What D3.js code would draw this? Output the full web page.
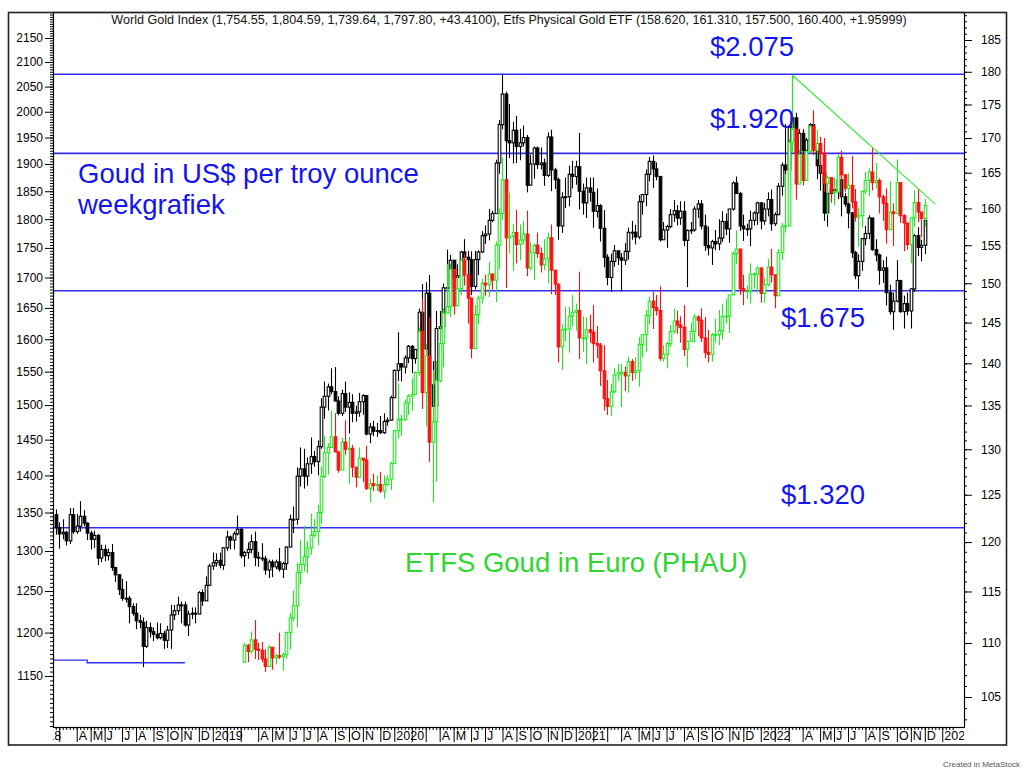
<!DOCTYPE html>
<html>
<head>
<meta charset="utf-8">
<script src="https://cdn.jsdelivr.net/npm/d3@7"></script>
<style>
  body { margin: 0; background: #fff; }
  svg { display: block; font-family: "Liberation Sans", Arial, sans-serif; }
</style>
</head>
<body>
<svg id="chart" width="1028" height="776"></svg>
<script>
// weekly bars, dated on the Friday close
var goldStart = new Date(2018, 1, 23);
var goldEnd = new Date(2022, 11, 2);
var etfStart = new Date(2019, 2, 8);

// World Gold Index (US$), weekly
var goldFirstOpen = 1347;
var goldClose = [
  1330,1322,1324,1313,1347,1325,1332,1345,1336,1323,1315,1320,1291,1302,1294,1298,1279,1270,1252,1241,1241,1231,1223,1214,1212,1184,1206,1201,1198,1194,1199,1191,1203,1221,1226,1233,1233,1209,1222,1223,1222,1248,1238,1257,1281,
  1285,1288,1282,1304,1318,1314,1322,1328,1294,1298,1302,1312,1292,1291,1290,1276,1286,1280,1286,1277,1284,1305,1341,1341,1399,1409,1399,1416,1426,1419,1440,1497,1513,1527,1520,1506,1488,1517,1497,1504,1488,1490,1505,1514,1458,1468,1462,1463,1460,1476,1478,1511,
  1552,1562,1557,1571,1589,1570,1584,1643,1585,1674,1530,1498,1617,1620,1683,1683,1729,1700,1703,1743,1734,1730,1685,1730,1743,1771,1774,1798,1810,1902,1975,2035,1944,1940,1964,1933,1940,1950,1861,1900,1930,1899,1902,1879,1951,1889,1871,1788,1839,1840,1881,1877,
  1895,1850,1829,1856,1848,1814,1824,1784,1734,1700,1727,1745,1733,1729,1744,1777,1777,1769,1831,1844,1881,1905,1891,1877,1764,1781,1787,1808,1815,1802,1814,1763,1780,1781,1818,1827,1788,1754,1750,1761,1757,1767,1796,1783,1818,1865,1846,1788,1783,1783,1798,1811,1829,
  1797,1818,1835,1792,1808,1859,1898,1889,1970,1988,1921,1958,1925,1945,1975,1931,1897,1883,1811,1846,1853,1851,1871,1840,1827,1811,1742,1703,1727,1766,1775,1802,1747,1738,1712,1716,1675,1644,1661,1695,1644,1657,1645,1681,1771,1751,1754.55,1797.8
];
var goldHigh = [
  1354,1337,1341,1326,1356,1356,1348,1365,1353,1337,1326,1326,1322,1308,1308,1303,1309,1280,1269,1265,1262,1244,1235,1235,1221,1218,1214,1212,1206,1212,1211,1202,1208,1233,1233,1243,1237,1237,1226,1230,1230,1250,1252,1268,1284,
  1298,1297,1298,1305,1326,1320,1325,1346,1330,1300,1311,1321,1325,1299,1310,1294,1289,1289,1289,1304,1286,1306,1347,1358,1411,1439,1437,1425,1453,1434,1449,1510,1535,1532,1555,1557,1513,1523,1535,1519,1516,1499,1518,1516,1512,1474,1477,1474,1484,1488,1482,1514,
  1553,1611,1563,1575,1591,1591,1585,1649,1689,1692,1704,1566,1645,1645,1690,1747,1738,1723,1722,1745,1765,1745,1744,1745,1746,1779,1789,1818,1815,1908,1984,2075,2040,2015,1980,1992,1967,1973,1955,1917,1933,1933,1931,1910,1960,1965,1893,1875,1848,1875,1897,1906,
  1906,1959,1864,1875,1875,1875,1855,1827,1816,1739,1740,1755,1745,1741,1758,1785,1797,1790,1843,1845,1890,1913,1916,1903,1877,1795,1790,1818,1834,1825,1832,1832,1782,1795,1823,1834,1834,1808,1787,1764,1781,1800,1814,1810,1818,1868,1877,1849,1808,1792,1815,1814,1831,
  1830,1829,1848,1853,1812,1865,1903,1976,1974,2070,1998,1966,1966,1949,1978,1998,1920,1910,1883,1849,1870,1874,1876,1879,1847,1830,1813,1745,1739,1767,1788,1807,1802,1765,1740,1729,1735,1688,1675,1729,1686,1670,1675,1682,1774,1786,1764,1804.59
];
var goldLow = [
  1321,1303,1315,1307,1309,1322,1322,1325,1332,1314,1302,1304,1282,1286,1287,1288,1275,1261,1245,1238,1236,1211,1220,1204,1205,1160,1182,1194,1190,1192,1192,1181,1182,1181,1215,1221,1211,1207,1196,1216,1211,1222,1232,1238,1256,
  1276,1280,1278,1276,1300,1302,1302,1320,1291,1280,1290,1297,1281,1280,1287,1270,1266,1267,1277,1274,1266,1276,1305,1323,1334,1385,1382,1386,1402,1412,1400,1437,1480,1492,1516,1506,1485,1484,1490,1459,1475,1476,1483,1486,1456,1445,1455,1454,1458,1458,1470,1477,
  1517,1536,1535,1547,1563,1548,1562,1582,1563,1576,1504,1451,1482,1567,1606,1680,1660,1688,1683,1691,1718,1693,1671,1680,1704,1741,1757,1763,1795,1812,1882,1966,1862,1911,1901,1902,1907,1933,1848,1871,1873,1891,1890,1860,1876,1850,1854,1764,1776,1820,1823,1855,
  1862,1817,1808,1802,1831,1785,1803,1761,1717,1687,1676,1718,1721,1677,1721,1730,1764,1756,1765,1808,1823,1868,1856,1870,1761,1770,1750,1784,1795,1789,1790,1753,1684,1774,1778,1802,1782,1745,1737,1721,1746,1746,1760,1772,1759,1815,1845,1779,1762,1771,1753,1789,1790,
  1782,1790,1805,1780,1788,1807,1842,1879,1885,1966,1895,1910,1917,1915,1936,1929,1872,1851,1797,1787,1836,1829,1836,1805,1822,1784,1733,1697,1681,1711,1754,1765,1745,1727,1688,1691,1654,1639,1615,1659,1642,1617,1638,1617,1676,1736,1727,1739.64
];

// Etfs Physical Gold ETF (euro), weekly
var etfFirstOpen = 108.2;
var etfClose = [
  109.8,109.2,110.3,109.4, 109.3,108.5,107.8,109.6, 108.6,108.8,108.7,108.9,111.0, 112.4,113.6,116.9,117.7, 118.5,119.4,120.7,121.1, 123.1,127.0,129.6,130.2,131.4, 129.7,127.7,130.8,130.0, 130.1,128.0,126.9,129.0, 128.8,125.7,126.2,126.0,126.1, 125.4,126.1,126.7,128.4,
  132.1,133.4,133.4,135.3,136.1, 136.3,138.9,143.9,136.5, 140.9,130.8,133.1,137.9, 142.4,146.2,147.0,151.8, 147.1,149.3,153.0,151.1,148.1, 141.8,146.0,148.1,150.0, 149.8,151.2,150.4,155.0,159.3, 164.0,156.0,156.2,156.7, 155.1,155.7,156.5,152.0, 154.0,155.0,153.9,152.4,153.2, 156.0,151.7,149.9,142.0, 144.1,144.2,145.8,146.3,
  146.5,143.1,143.1,144.1,143.8, 142.4,142.2,139.1,135.8, 134.9,136.6,138.6,138.9, 138.9,138.5,140.2,138.9,139.1, 142.3,143.5,145.9,147.7, 146.9,146.5,140.6,141.1, 142.4,143.9,145.2,144.7,144.4, 141.7,142.7,143.9,145.7, 145.3,143.1,141.3,141.1, 143.5,143.5,144.0,145.8,145.8, 148.5,153.9,154.5,149.3, 149.0,149.0,151.2,151.2,152.0,
  148.7,149.8,152.1,151.1, 148.4,154.0,157.6,157.6, 169.4,171.3,163.4,167.6, 163.9,168.0,171.7,168.2,169.2, 167.8,163.5,164.3,162.3, 162.3,167.2,164.7,162.8, 163.2,160.9,158.8,159.0,162.4, 163.9,165.1,163.6,163.9, 161.6,160.7,157.1,159.5,159.3, 163.6,159.0,158.0,155.1, 158.7,160.8,159.5,158.62, 160.4
];
var etfHigh = [
  110.0,109.9,111.1,112.2, 110.0,110.1,109.4,109.8, 109.3,109.0,111.0,109.1,111.1, 112.9,115.1,117.9,120.2, 121.7,120.1,123.0,122.4, 123.9,128.1,131.5,130.7,134.4, 134.1,129.8,131.3,133.3, 131.4,130.5,127.7,130.2, 128.9,130.4,126.7,127.3,127.1, 127.5,127.1,127.1,128.6,
  132.2,137.6,133.9,135.7,136.3, 138.2,139.0,144.4,148.0, 142.4,145.7,139.2,140.3, 144.6,146.8,152.5,152.6, 149.1,150.9,153.2,153.8,149.4, 146.8,147.2,148.4,150.6, 151.1,152.8,150.8,155.5,160.0, 167.2,163.7,162.2,157.9, 159.8,157.8,158.3,159.7, 155.4,155.2,156.7,154.7,155.8, 156.7,157.8,151.6,148.9, 144.8,147.0,147.0,148.5,
  147.4,151.5,145.8,145.6,146.0, 147.2,144.6,142.5,142.2, 138.0,137.6,139.4,139.9, 139.9,139.6,140.8,140.5,140.7, 143.2,143.6,146.6,148.3, 148.9,148.5,149.6,142.2, 142.6,144.7,146.8,146.5,145.8, 147.2,142.8,145.0,146.1, 145.9,146.8,145.7,144.1, 143.7,145.5,146.6,147.3,148.0, 148.5,154.2,157.0,154.4, 151.1,149.7,152.6,151.4,152.2,
  151.4,150.7,153.2,154.5, 148.8,154.5,158.0,164.8, 169.8,179.5,170.0,168.3, 167.4,168.4,172.0,174.1,171.2, 170.2,170.0,164.6,163.8, 164.3,167.6,168.2,164.6, 164.9,167.4,162.7,160.1,162.5, 165.1,165.6,168.7,166.4, 164.2,161.9,162.8,163.8,160.7, 166.9,163.1,159.2,157.9, 158.8,162.5,162.7,159.4, 161.31
];
var etfLow = [
  108.3,108.2,109.0,108.5, 108.4,108.2,107.3,107.9, 107.5,108.0,108.5,107.4,108.5, 109.4,112.1,111.5,115.7, 117.0,116.8,118.7,120.5, 119.7,121.9,126.8,127.2,131.0, 129.7,127.4,127.9,129.4, 126.2,126.9,125.8,127.2, 126.4,125.5,124.2,125.4,125.4, 125.2,124.6,126.0,125.5,
  129.1,131.2,131.5,133.2,133.9, 134.4,137.0,138.5,134.6, 132.6,128.6,124.2,126.4, 137.7,139.5,146.7,145.7, 146.0,147.5,148.5,149.7,144.9, 140.6,141.7,144.8,147.4, 148.4,148.2,149.2,147.6,151.8, 158.4,149.4,153.9,151.6, 152.6,153.0,155.1,150.9, 151.7,150.4,153.3,151.4,151.7, 150.0,148.6,148.5,140.1, 139.2,142.7,141.3,144.6,
  144.0,140.5,141.4,139.9,142.5, 140.1,140.6,137.3,134.4, 133.9,133.8,136.4,137.9, 134.8,136.7,136.5,137.9,138.1, 137.2,140.7,141.4,144.8, 144.2,145.9,140.3,140.2, 139.4,142.0,143.6,143.6,142.5, 140.9,139.5,143.3,142.5, 143.3,142.6,140.6,140.1, 140.2,142.6,142.2,142.9,144.9, 143.7,149.8,152.5,148.5, 147.2,148.0,147.4,149.3,148.8,
  147.5,147.5,149.6,150.1, 146.8,149.7,153.0,156.7, 162.5,168.0,161.2,163.5, 163.2,165.5,168.4,167.5,166.9, 164.9,162.3,159.1,160.8, 160.4,164.0,161.6,162.3, 160.8,160.0,158.2,154.8,157.4, 162.0,161.7,162.5,162.8, 159.3,158.3,155.2,157.5,154.9, 160.1,158.0,154.2,154.4, 152.6,157.5,158.1,156.1, 157.5
];

// horizontal levels drawn on the gold scale
var levelValues = [2075, 1920, 1678, 1330];
var levelLabels = ["$2.075", "$1.920", "$1.675", "$1.320"];
// short support line under the 2018 low
var lowLineDates = [new Date(2018, 1, 16), new Date(2018, 3, 27), new Date(2018, 3, 27), new Date(2018, 10, 9)];
var lowLineValues = [1168, 1168, 1165, 1165];
// falling trend line on the ETF scale
var trendDates = [new Date(2022, 2, 11), new Date(2022, 11, 23)];
var trendValues = [179.5, 160.6];

var leftTicks = [1150,1200,1250,1300,1350,1400,1450,1500,1550,1600,1650,1700,1750,1800,1850,1900,1950,2000,2050,2100,2150];
var rightTicks = [105,110,115,120,125,130,135,140,145,150,155,160,165,170,175,180,185];
var monthLetters = ["J","F","M","A","M","J","J","A","S","O","N","D"];

var titleText = "World Gold Index (1,754.55, 1,804.59, 1,739.64, 1,797.80, +43.4100), Etfs Physical Gold ETF (158.620, 161.310, 157.500, 160.400, +1.95999)";

var W = 1028, H = 776;
var frame = { left: 8.5, top: 12.5, right: 1006.5, bottom: 745 };
var plot = { left: 53, top: 12, right: 964, bottom: 727 };
var blue = "#1414f0", lineBlue = "#3030f4", green = "#2fd62f";

var svg = d3.select("#chart");
svg.append("rect").attr("width", W).attr("height", H).attr("fill", "#fff");

var defs = svg.append("defs");
defs.append("clipPath").attr("id", "plotClip").append("rect")
    .attr("x", plot.left).attr("y", plot.top)
    .attr("width", plot.right - plot.left).attr("height", plot.bottom - plot.top);
defs.append("clipPath").attr("id", "axisClip").append("rect")
    .attr("x", plot.left).attr("y", plot.bottom)
    .attr("width", plot.right - plot.left).attr("height", frame.bottom - plot.bottom);

var x = d3.scaleTime().domain([goldStart, goldEnd]).range([55.75, 924.8]);
var yGold = d3.scaleLog().domain([1150, 2150]).range([676, 38]);
var yEtf = d3.scaleLog().domain([105, 185]).range([697, 40]);

function buildBars(start, firstOpen, close, high, low) {
    var dates = d3.timeFriday.range(start, d3.timeDay.offset(goldEnd, 1));
    return close.map(function(c, i) {
        var o = i === 0 ? firstOpen : close[i - 1];
        return { date: dates[i], open: o, close: c,
                 high: Math.max(high[i], o, c), low: Math.min(low[i], o, c) };
    });
}

var goldBars = buildBars(goldStart, goldFirstOpen, goldClose, goldHigh, goldLow);
var etfBars = buildBars(etfStart, etfFirstOpen, etfClose, etfHigh, etfLow);

var body = svg.append("g").attr("clip-path", "url(#plotClip)");

// level lines
body.selectAll("line.level").data(levelValues).join("line")
    .attr("class", "level")
    .attr("x1", plot.left).attr("x2", plot.right)
    .attr("y1", function(d) { return yGold(d); })
    .attr("y2", function(d) { return yGold(d); })
    .attr("stroke", lineBlue).attr("stroke-width", 1.6);

var lowLine = d3.line()
    .x(function(d, i) { return x(lowLineDates[i]); })
    .y(function(d) { return yGold(d); });
body.append("path").attr("d", lowLine(lowLineValues))
    .attr("fill", "none").attr("stroke", lineBlue).attr("stroke-width", 1.4);

function drawCandles(g, bars, y, upStroke, downColor) {
    var px = function(d) { return Math.round(x(d.date)); };
    g.selectAll("line.wick").data(bars).join("line")
        .attr("class", "wick")
        .attr("x1", function(d) { return px(d) + 0.5; })
        .attr("x2", function(d) { return px(d) + 0.5; })
        .attr("y1", function(d) { return y(d.high); })
        .attr("y2", function(d) { return y(d.low); })
        .attr("stroke", function(d) { return d.close >= d.open ? upStroke : downColor; })
        .attr("stroke-width", 1.1);
    g.selectAll("rect.body").data(bars).join("rect")
        .attr("class", "body")
        .attr("x", function(d) { return px(d) - 0.8; })
        .attr("width", 2.6)
        .attr("y", function(d) { return y(Math.max(d.open, d.close)); })
        .attr("height", function(d) { return Math.max(0.8, Math.abs(y(d.open) - y(d.close))); })
        .attr("fill", function(d) { return d.close >= d.open ? "#fff" : downColor; })
        .attr("stroke", function(d) { return d.close >= d.open ? upStroke : downColor; })
        .attr("stroke-width", 1.1);
}

drawCandles(body.append("g"), goldBars, yGold, "#000", "#000");
drawCandles(body.append("g"), etfBars, yEtf, "#22e822", "#ff1010");

var trend = d3.line()
    .x(function(d, i) { return x(trendDates[i]); })
    .y(function(d) { return yEtf(d); });
body.append("path").attr("d", trend(trendValues))
    .attr("fill", "none").attr("stroke", "#33ee33").attr("stroke-width", 1.1);

// annotations
function bigText(str, tx, ty, color) {
    svg.append("text").attr("x", tx).attr("y", ty)
        .attr("font-size", 27.5).attr("fill", color).text(str);
}
bigText(levelLabels[0], 710, 56, blue);
bigText(levelLabels[1], 710, 128, blue);
bigText(levelLabels[2], 781, 327, blue);
bigText(levelLabels[3], 781, 504, blue);
bigText("Goud in US$ per troy ounce", 78, 183, blue);
bigText("weekgrafiek", 78, 214, blue);
bigText("ETFS Goud in Euro (PHAU)", 405, 572, green);

var title = svg.append("text").attr("x", 509).attr("y", 24)
    .attr("text-anchor", "middle").attr("font-size", 11).attr("fill", "#111")
    .text(titleText);
var tw = title.node().getComputedTextLength();
if (tw > 0) title.attr("font-size", 11 * 796 / tw);

// axes
function styleAxis(g) {
    g.select(".domain").remove();
    g.attr("font-family", null).attr("font-size", 12);
    g.selectAll("line").attr("stroke", "#000");
}

var leftMinor = d3.range(1095, 2206, 5);
svg.append("g").attr("transform", "translate(" + plot.left + ",0)")
    .call(d3.axisLeft(yGold).tickValues(leftMinor).tickSize(3).tickFormat(""))
    .call(styleAxis);
svg.append("g").attr("transform", "translate(" + plot.left + ",0)")
    .call(d3.axisLeft(yGold).tickValues(leftTicks).tickSize(8).tickPadding(2).tickFormat(d3.format("d")))
    .call(styleAxis);

var rightMinor = d3.range(103, 190, 1);
svg.append("g").attr("transform", "translate(" + plot.right + ",0)")
    .call(d3.axisRight(yEtf).tickValues(rightMinor).tickSize(3).tickFormat(""))
    .call(styleAxis);
var rAxis = svg.append("g").attr("transform", "translate(" + plot.right + ",0)")
    .call(d3.axisRight(yEtf).tickValues(rightTicks).tickSize(8).tickFormat(d3.format("d")))
    .call(styleAxis);
rAxis.selectAll("text").attr("x", 37).attr("text-anchor", "end");

// time axis: weekly minor ticks, month separators with letters, year at January
var weekTicks = d3.timeFriday.range(new Date(2018, 0, 1), new Date(2023, 1, 1))
    .filter(function(d) { var p = x(d); return p >= plot.left && p <= plot.right; });
var xAxisG = svg.append("g").attr("clip-path", "url(#axisClip)");
xAxisG.append("g").attr("transform", "translate(0," + plot.bottom + ")")
    .call(d3.axisBottom(x).tickValues(weekTicks).tickSize(3).tickFormat(""))
    .call(styleAxis);

var monthTicks = d3.timeMonth.range(new Date(2018, 0, 1), new Date(2023, 1, 1))
    .map(function(m) { return { month: m, bar: d3.timeFriday.ceil(m) }; });
var mAxis = xAxisG.append("g").attr("transform", "translate(0," + plot.bottom + ")")
    .call(d3.axisBottom(x).tickValues(monthTicks.map(function(d) { return d.bar; }))
        .tickSize(15)
        .tickFormat(function(d, i) {
            var m = monthTicks[i].month;
            var k = m.getMonth();
            if (k === 0) return String(m.getFullYear());
            if (k === 1 || k === 2) return "";
            return monthLetters[k];
        }))
    .call(styleAxis);
mAxis.selectAll("text").attr("text-anchor", "start").attr("x", 1.5)
    .attr("y", 4).attr("dy", "0.71em").attr("font-size", 12.5);

// frame and plot border
svg.append("rect").attr("x", plot.left + 0.5).attr("y", plot.top + 0.5)
    .attr("width", plot.right - plot.left).attr("height", plot.bottom - plot.top)
    .attr("fill", "none").attr("stroke", "#000").attr("stroke-width", 1.2);
svg.append("rect").attr("x", frame.left).attr("y", frame.top)
    .attr("width", frame.right - frame.left).attr("height", frame.bottom - frame.top)
    .attr("fill", "none").attr("stroke", "#222").attr("stroke-width", 1.6);

svg.append("text").attr("x", 1020).attr("y", 767).attr("text-anchor", "end")
    .attr("font-size", 8).attr("fill", "#555").text("Created in MetaStock");
</script>
</body>
</html>
